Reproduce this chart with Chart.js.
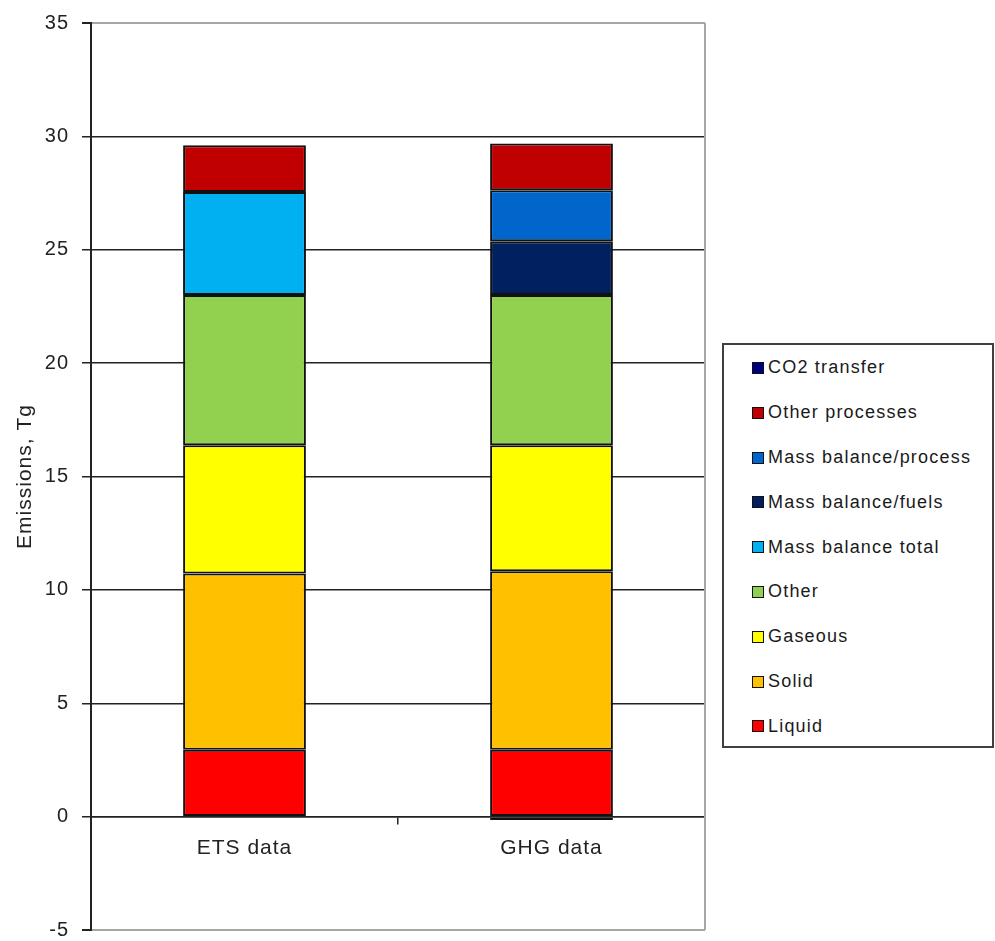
<!DOCTYPE html>
<html>
<head>
<meta charset="utf-8">
<script src="https://cdn.jsdelivr.net/npm/chart.js@4/dist/chart.umd.min.js"></script>
<style>
  html, body { margin: 0; padding: 0; background: #fff; }
  #wrap { position: relative; width: 995px; height: 941px; overflow: hidden; }
  #chart { position: absolute; left: 0; top: 0; }
  #legend {
    position: absolute; left: 722px; top: 343px; width: 268px; height: 401px;
    border: 2px solid #404040; background: #fff; box-sizing: content-box;
    font-family: "Liberation Sans", Arial, sans-serif; font-size: 18px;
    letter-spacing: 1.2px; color: #1a1a1a;
  }
  .item { display: flex; align-items: center; padding-left: 28px; height: 44.8px; }
  .item:first-child { margin-top: 0.6px; }
  .swatch { width: 10px; height: 10px; border: 1.5px solid #111; margin-right: 4px; flex: none; }
</style>
</head>
<body>
<div id="wrap">
  <canvas id="chart" width="995" height="941"></canvas>
  <div id="legend"></div>
</div>
<script>
// Categories and emissions (Tg) per source, stacked bottom to top
const categories = ['ETS data', 'GHG data'];
const liquid = [2.95, 2.95];
const solid = [7.77, 7.87];
const gaseous = [5.66, 5.56];
const other = [6.62, 6.62];
const massBalanceTotal = [4.55, null];
const massBalanceFuels = [null, 2.38];
const massBalanceProcess = [null, 2.24];
const otherProcesses = [2.06, 2.07];
const co2Transfer = [null, -0.15];

const seriesNames = ['Liquid', 'Solid', 'Gaseous', 'Other', 'Mass balance total',
  'Mass balance/fuels', 'Mass balance/process', 'Other processes', 'CO2 transfer'];
const seriesValues = [liquid, solid, gaseous, other, massBalanceTotal,
  massBalanceFuels, massBalanceProcess, otherProcesses, co2Transfer];
const seriesColors = ['#FF0000', '#FFC000', '#FFFF00', '#92D050', '#00B0F0',
  '#002060', '#0066CC', '#C00000', '#000080'];

const yTicks = { min: -5, max: 35, step: 5 };

const FONT = '"Liberation Sans", Arial, sans-serif';
const INK = '#222';

const datasets = seriesNames.map((name, i) => ({
  label: name,
  data: seriesValues[i],
  backgroundColor: seriesColors[i],
  borderColor: '#111',
  borderWidth: 2,
  borderSkipped: false,
  categoryPercentage: 1,
  barPercentage: 0.4
}));

// Gray frame on the right edge of the plot and slightly wider text spacing
const framePlugin = {
  id: 'frame',
  beforeUpdate(chart) { chart.ctx.letterSpacing = '1px'; },
  beforeDraw(chart) { chart.ctx.letterSpacing = '1px'; },
  beforeDatasetsDraw(chart) {
    const { ctx, chartArea: a } = chart;
    ctx.save();
    ctx.strokeStyle = '#a6a6a6';
    ctx.lineWidth = 2;
    ctx.beginPath();
    ctx.moveTo(a.right, a.top);
    ctx.lineTo(a.right, a.bottom);
    ctx.stroke();
    ctx.restore();
  }
};

const isEdge = (c) => c.tick && (c.tick.value === yTicks.min || c.tick.value === yTicks.max);

const chart = new Chart(document.getElementById('chart'), {
  type: 'bar',
  data: { labels: categories, datasets },
  plugins: [framePlugin],
  options: {
    responsive: false,
    animation: false,
    layout: { padding: { left: 0, right: 290, top: 23, bottom: 11 } },
    plugins: {
      legend: { display: false },
      tooltip: { enabled: false }
    },
    scales: {
      x: {
        stacked: true,
        position: { y: 0 },
        grid: {
          offset: true, drawOnChartArea: false, drawTicks: true,
          tickLength: 7, color: INK, lineWidth: 1.5
        },
        border: { display: true, color: INK, width: 1.5 },
        ticks: { color: INK, padding: 12, font: { family: FONT, size: 21 } }
      },
      y: {
        stacked: true,
        min: yTicks.min,
        max: yTicks.max,
        ticks: {
          stepSize: yTicks.step, color: INK, padding: 13,
          font: { family: FONT, size: 20 }
        },
        grid: {
          color: (c) => isEdge(c) ? '#a6a6a6' : INK,
          lineWidth: (c) => isEdge(c) ? 2 : 1.5,
          tickColor: INK, tickLength: 9, drawTicks: true
        },
        border: { display: true, color: INK, width: 2 },
        title: {
          display: true, text: 'Emissions, Tg', color: INK,
          font: { family: FONT, size: 21 }, padding: { top: 13, bottom: 0 }
        },
        afterFit(scale) {
          scale.width = 91;
          scale.paddingTop = 0;
          scale.paddingBottom = 0;
        }
      }
    }
  }
});

// Legend box listing the series top-down in reverse stacking order
const legendEl = document.getElementById('legend');
chart.data.datasets.slice().reverse().forEach(ds => {
  const row = document.createElement('div');
  row.className = 'item';
  const sw = document.createElement('span');
  sw.className = 'swatch';
  sw.style.background = ds.backgroundColor;
  const txt = document.createElement('span');
  txt.textContent = ds.label;
  row.appendChild(sw);
  row.appendChild(txt);
  legendEl.appendChild(row);
});
</script>
</body>
</html>
